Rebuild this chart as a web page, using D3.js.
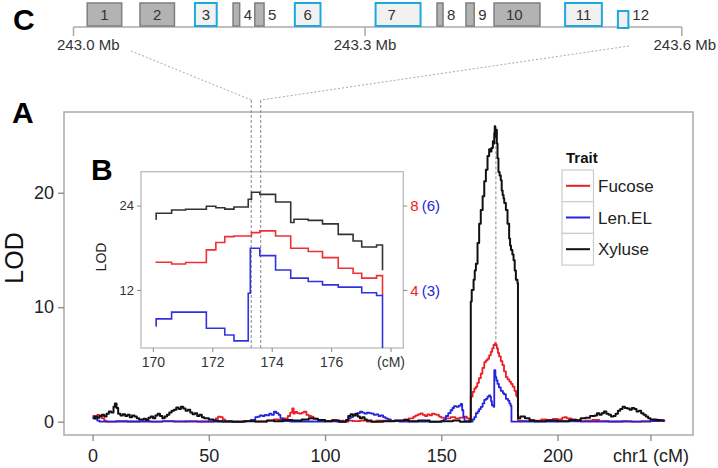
<!DOCTYPE html>
<html>
<head>
<meta charset="utf-8">
<script src="https://cdn.jsdelivr.net/npm/d3@7"></script>
<style>
body { margin: 0; background: #fff; }
</style>
</head>
<body>
<svg width="718" height="468"></svg>
<script>
// ---------- data ----------
// panel A, whole chromosome 1: [cM, LOD]
var fucose = [[0,0.5],[1,0.45],[2,0.6],[3,0.5],[4,0.3],[5,0.1],[6,0],[10,0.05],[15,0],[20,0.05],[25,0],[30,0.05],[35,0],[40,0.05],[45,0.02],[50,0],
  [52,0.1],[53,0.3],[54,0.45],[55,0.4],[56,0.2],[57,0.05],[60,0],[65,0.05],[70,0],[75,0.1],[78,0.2],[80,0.15],[82,0.3],[84,0.5],[85,0.8],[85.9,1.17],
  [86.5,0.7],[87,0.85],[88,0.75],[89,0.7],[90,0.8],[90.9,0.87],[92,0.6],[93,0.5],[94,0.45],[95,0.3],[96,0.2],[97,0.1],[100,0.05],[103,0.15],[105,0.1],
  [108,0],[110,0.1],[112,0.05],[115,0.1],[118,0],[122,0.1],[126,0.05],[130,0.1],[134,0.2],[136,0.3],[138,0.45],[139,0.55],[140,0.65],[141,0.73],
  [142,0.6],[143,0.5],[144,0.65],[145,0.55],[146,0.7],[147,0.65],[148,0.6],[149,0.45],[150,0.35],[152,0.3],[154,0.4],[156,0.3],[158,0.35],[160,0.45],
  [161,0.3],[162,0.1],[162.6,0.05],[162.7,2.2],[163.5,2.6],[164.2,2.9],[164.9,3.06],[165.5,3.4],[166.2,3.8],[167,4.2],[167.7,4.7],[168.5,5.2],
  [169.2,5.35],[169.9,5.5],[170.6,5.8],[171.3,6.1],[171.9,6.4],[172.5,6.7],[173.1,6.84],[173.5,6.7],[173.9,6.4],[174.4,6.0],[174.9,5.7],[175.6,5.3],
  [176.3,4.95],[177,4.4],[177.8,3.9],[178.5,3.7],[179.3,3.5],[180,3.3],[180.7,3.06],[181.5,2.7],[182.2,2.3],[182.5,2.2],[183,0.1],[185,0.05],
  [188,0.15],[190,0.1],[193,0.2],[195,0.15],[198,0.25],[200,0.2],[202,0.35],[203,0.4],[204,0.3],[206,0.2],[208,0.15],[210,0.05],[212,0.1],
  [215,0.15],[218,0.05],[222,0],[228,0.05],[232,0],[236,0.05],[240,0.1],[242,0.2],[243,0.15],[245,0.05],[246,0]];

var lenEL = [[0,0.4],[1,0.25],[2,0.1],[3,0],[10,0.02],[20,0],[30,0.03],[40,0],[50,0.02],[60,0],[66,0.05],[68,0.15],[70,0.4],[71,0.45],[72,0.55],
  [73,0.5],[74,0.6],[75,0.55],[76,0.7],[77,0.6],[78,0.87],[79,0.75],[80,0.6],[80.8,0.3],[82,0.05],[85,0],[90,0.02],[95,0],[100,0.03],[105,0],
  [109,0.1],[110,0.3],[111,0.4],[112,0.55],[113,0.6],[114,0.75],[115,0.87],[116,0.8],[117,0.7],[118,0.8],[119,0.75],[120,0.7],[121,0.6],[122,0.65],
  [123,0.5],[124,0.55],[125,0.4],[126,0.3],[127,0.2],[128.3,0.05],[132,0],[140,0.02],[145,0],[150,0.05],[151,0.2],[152,0.5],[153,0.75],[154,1.0],
  [154.8,1.2],[155.5,1.37],[156.5,1.3],[157.5,1.4],[158.4,1.55],[159,1.0],[159.5,0.4],[160,0.05],[163,0],[163.5,0.2],[164.2,0.4],[164.9,0.74],
  [165.7,0.9],[166.3,1.1],[167,1.3],[167.8,1.6],[168.5,1.9],[169.2,2.0],[169.9,2.2],[170.5,2.3],[171,2.2],[171.4,1.8],[171.8,1.44],[172.5,1.3],
  [172.8,4.5],[173.3,3.9],[173.7,3.6],[174.2,3.3],[174.8,3.0],[175.6,2.7],[176.5,2.5],[177,2.4],[177.8,2.0],[178.7,1.85],[179.3,1.6],[179.8,1.4],
  [180.2,0],[185,0.02],[190,0],[200,0.03],[210,0],[220,0.02],[230,0],[240,0.05],[244,0.12],[246,0.1]];

var xyluse = [[0,0.3],[1,0.45],[2,0.35],[3,0.5],[4,0.6],[5,0.45],[6,0.7],[7,0.9],[8,0.8],[9,1.3],[9.6,1.6],[10.3,1.2],[11,0.7],[12,0.55],[13,0.65],
  [14,0.5],[15,0.6],[16,0.4],[17,0.55],[18,0.45],[19,0.3],[20,0.2],[22,0.25],[23,0.15],[24,0.35],[25,0.45],[26,0.3],[27,0.55],[28,0.7],[29,0.5],
  [30,0.3],[31,0.45],[32,0.6],[33,0.8],[34,0.95],[35,1.05],[36,1.25],[37,1.1],[38,1.3],[39,1.15],[40,0.95],[41,1.05],[42,0.8],[43,0.65],[44,0.75],
  [45,0.5],[46,0.6],[47,0.4],[48,0.3],[50,0.2],[52,0.1],[54,0.05],[56,0.02],[60,0],[65,0.05],[70,0.02],[75,0.1],[78,0.05],[82,0.15],[86,0.1],
  [90,0.2],[93,0.3],[95,0.25],[97,0.15],[100,0.05],[103,0.1],[106,0],[109,0.15],[110,0.5],[111,0.65],[112,0.55],[113,0.7],[114,0.45],[115,0.3],
  [116,0.4],[117,0.2],[118,0.1],[120,0],[125,0.05],[130,0.1],[134,0.15],[136,0.05],[140,0.1],[145,0],[150,0.05],[155,0.1],[158,0],[162.6,0.05],
  [162.7,10.5],[163.1,11.5],[163.9,12.4],[164.4,13.2],[164.9,13.8],[165.6,15.6],[166.3,17.3],[167,18.5],[167.8,19.7],[168.5,21],[169.2,22],
  [169.9,23.2],[170.6,23.8],[171.1,23.6],[171.6,23.9],[172.2,24.5],[172.6,24.3],[172.8,25.2],[173,25.8],[173.2,24.9],[173.5,25.5],[173.9,24.3],
  [174.2,23],[174.6,21.8],[175.1,21.5],[175.6,21.1],[176,20.2],[176.4,19.8],[176.8,19.5],[177.1,19.1],[177.8,18.5],[178.5,17.3],[179.2,16],
  [179.6,15.4],[180,15],[180.6,14.6],[181.1,14.1],[181.6,13.2],[182.1,12.4],[182.8,12.1],[183,0.3],[184,0.45],[186,0.3],[188,0.1],[190,0.05],
  [195,0.1],[200,0.05],[205,0.15],[208,0.1],[210,0.3],[212,0.35],[214,0.5],[216,0.55],[217,0.75],[218,0.6],[219,0.75],[220,0.9],[221,0.7],
  [222,0.6],[223,0.45],[224,0.5],[225,0.7],[226,0.95],[227,1.1],[228,1.3],[229,1.2],[230,1.15],[231,1.05],[232,1.2],[233,1.1],[234,0.9],
  [235,0.95],[236,0.75],[237,0.6],[238,0.45],[239,0.3],[240,0.2],[242,0.15],[244,0.1],[246,0.1]];

var xTicks = [0, 50, 100, 150, 200, 240];
var yTicks = [0, 10, 20];
var traits = ["Fucose", "Len.EL", "Xyluse"];
var traitColors = ["#ee1c24", "#2424dc", "#111111"];
var peakCM = 173.5;

// panel B, markers in the peak (cM) and LOD per trait
var insetPos   = [170.09,170.11,170.63,171.10,171.80,172.12,172.42,172.73,173.21,173.28,173.32,173.60,174.13,174.64,174.75,175.23,175.71,176.24,176.74,177.03,177.53,177.73];
var insetXyl   = [22.05,22.90,23.37,23.47,23.90,23.70,23.50,23.80,24.90,24.90,25.90,25.60,24.50,21.60,22.05,21.90,21.40,19.90,18.96,18.10,18.40,14.80];
var insetFuc   = [5.31,5.31,5.23,5.30,5.90,6.25,6.53,6.56,6.56,6.56,6.72,6.80,6.56,5.98,5.98,5.82,5.53,5.03,4.79,4.56,4.68,3.76];
var insetLen   = [1.72,1.97,2.21,2.21,1.64,1.64,1.40,1.19,2.88,4.48,4.48,4.22,3.71,3.42,3.42,3.30,3.18,3.10,3.10,2.90,2.80,0.50];
var insetXTicks = [170, 172, 174, 176, 178];
var insetYTicks = [12, 24];
var fucScale = 3, lenScale = 4;   // right axis: 8 (6) sits at 24
var insetMarks = [173.31, 173.63];

// panel C, genes (Mb)
var geneIds   = [1,2,3,4,5,6,7,8,9,10,11,12];
var geneStart = [243.0141,243.0684,243.1250,243.1642,243.1866,243.2278,243.3100,243.3682,243.3956,243.4222,243.4895,243.5395];
var geneEnd   = [243.0496,243.1039,243.1474,243.1710,243.1961,243.2542,243.3526,243.3739,243.4034,243.4657,243.5243,243.5494];
var geneCand  = [0,0,1,0,0,1,1,0,0,0,1,1];
var mbTicks = [243.0, 243.3, 243.6];

// ---------- drawing ----------
var svg = d3.select("svg");
var font = '"Liberation Sans", Arial, Helvetica, sans-serif';

// panel A
var x = d3.scaleLinear().domain([-12.3, 258.3]).range([64, 693]);
var y = d3.scaleLinear().domain([-1.16, 27.05]).range([435, 112]);

svg.append("rect")
    .attr("x", x.range()[0]).attr("y", y.range()[1])
    .attr("width", x.range()[1] - x.range()[0])
    .attr("height", y.range()[0] - y.range()[1])
    .attr("fill", "#fff").attr("stroke", "#aaa").attr("stroke-width", 1.5);

var xAxis = svg.append("g")
    .attr("transform", "translate(0," + y.range()[0] + ")")
    .call(d3.axisBottom(x).tickValues(xTicks).tickSize(6).tickPadding(8)
      .tickFormat(function(d) { return d === 240 ? "chr1 (cM)" : d; }));
xAxis.select(".domain").remove();
xAxis.selectAll("line").attr("stroke", "#888").attr("stroke-width", 1.3);
xAxis.selectAll("text").attr("font-family", font).attr("font-size", 18).attr("fill", "#222");

var yAxis = svg.append("g")
    .attr("transform", "translate(" + x.range()[0] + ",0)")
    .call(d3.axisLeft(y).tickValues(yTicks).tickSize(6).tickPadding(4));
yAxis.select(".domain").remove();
yAxis.selectAll("line").attr("stroke", "#888").attr("stroke-width", 1.3);
yAxis.selectAll("text").attr("font-family", font).attr("font-size", 18).attr("fill", "#222");

svg.append("text")
    .attr("transform", "translate(23,258) rotate(-90)")
    .attr("text-anchor", "middle")
    .attr("font-family", font).attr("font-size", 25).attr("fill", "#111")
    .text("LOD");

// peak marker
svg.append("line")
    .attr("x1", x(peakCM)).attr("x2", x(peakCM))
    .attr("y1", y(25.8)).attr("y2", y(6.84))
    .attr("stroke", "#888").attr("stroke-width", 1).attr("stroke-dasharray", "3,2");

var line = d3.line()
    .x(function(d) { return x(d[0]); })
    .y(function(d) { return y(d[1]); })
    .curve(d3.curveStepAfter);

[fucose, lenEL, xyluse].forEach(function(s, i) {
  svg.append("path")
      .datum(s)
      .attr("d", line)
      .attr("fill", "none")
      .attr("stroke", traitColors[i])
      .attr("stroke-width", i === 2 ? 2 : 1.8)
      .attr("stroke-linejoin", "round");
});

// legend
var lg = svg.append("g").attr("font-family", font);
lg.append("text").attr("x", 566).attr("y", 163)
    .attr("font-size", 15).attr("font-weight", "bold").attr("fill", "#111").text("Trait");
traits.forEach(function(t, i) {
  var top = 170 + i * 31.7;
  lg.append("rect").attr("x", 562).attr("y", top).attr("width", 31.5).attr("height", 31.7)
      .attr("fill", "#fff").attr("stroke", "#ccc").attr("stroke-width", 1.2);
  lg.append("line").attr("x1", 566).attr("x2", 590).attr("y1", top + 15.8).attr("y2", top + 15.8)
      .attr("stroke", traitColors[i]).attr("stroke-width", 2);
  lg.append("text").attr("x", 598).attr("y", top + 15.8).attr("dy", "0.36em")
      .attr("font-size", 17).attr("fill", "#222").text(t);
});

// panel B (inset)
var ix = d3.scaleLinear().domain([169.6, 178.43]).range([141, 403.3]);
var iy = d3.scaleLinear().domain([3.74, 28.82]).range([348, 171.7]);

svg.append("rect")
    .attr("x", ix.range()[0]).attr("y", iy.range()[1])
    .attr("width", ix.range()[1] - ix.range()[0])
    .attr("height", iy.range()[0] - iy.range()[1])
    .attr("fill", "#fff").attr("stroke", "#bbb").attr("stroke-width", 1.3);

svg.append("clipPath").attr("id", "inset-clip")
  .append("rect")
    .attr("x", ix.range()[0]).attr("y", iy.range()[1])
    .attr("width", ix.range()[1] - ix.range()[0])
    .attr("height", iy.range()[0] - iy.range()[1]);

// connector lines from C to B
var connectEnds = [[131, 51], [629, 46]];
insetMarks.forEach(function(m, i) {
  svg.append("line")
      .attr("x1", connectEnds[i][0]).attr("y1", connectEnds[i][1])
      .attr("x2", ix(m)).attr("y2", 100)
      .attr("stroke", "#aaa").attr("stroke-width", 1).attr("stroke-dasharray", "2,2");
  svg.append("line")
      .attr("x1", ix(m)).attr("x2", ix(m))
      .attr("y1", 100).attr("y2", iy.range()[0])
      .attr("stroke", "#888").attr("stroke-width", 1).attr("stroke-dasharray", "3,2");
});

var iline = function(vals, k) {
  return d3.line()
      .x(function(d, i) { return ix(insetPos[i]); })
      .y(function(d) { return iy(d * k); })
      .curve(d3.curveStepAfter)(vals);
};
var inset = svg.append("g").attr("clip-path", "url(#inset-clip)");
[[insetFuc, fucScale, "#ee3036"], [insetLen, lenScale, "#3333dd"], [insetXyl, 1, "#333"]].forEach(function(s) {
  inset.append("path")
      .attr("d", iline(s[0], s[1]))
      .attr("fill", "none").attr("stroke", s[2]).attr("stroke-width", 1.6);
});

var ixAxis = svg.append("g")
    .attr("transform", "translate(0," + iy.range()[0] + ")")
    .call(d3.axisBottom(ix).tickValues(insetXTicks).tickSize(4).tickPadding(5)
      .tickFormat(function(d) { return d === 178 ? "(cM)" : d; }));
ixAxis.select(".domain").remove();
ixAxis.selectAll("line").attr("stroke", "#888");
ixAxis.selectAll("text").attr("font-family", font).attr("font-size", 14).attr("fill", "#333");

var iyAxis = svg.append("g")
    .attr("transform", "translate(" + ix.range()[0] + ",0)")
    .call(d3.axisLeft(iy).tickValues(insetYTicks).tickSize(4).tickPadding(3));
iyAxis.select(".domain").remove();
iyAxis.selectAll("line").attr("stroke", "#888");
iyAxis.selectAll("text").attr("font-family", font).attr("font-size", 13).attr("fill", "#333");

var iyRight = svg.append("g")
    .attr("transform", "translate(" + ix.range()[1] + ",0)")
    .call(d3.axisRight(iy).tickValues(insetYTicks).tickSize(4).tickFormat(""));
iyRight.select(".domain").remove();
iyRight.selectAll("line").attr("stroke", "#888");
iyRight.selectAll(".tick").append("text")
    .attr("x", 7).attr("dy", "0.34em")
    .attr("font-family", font).attr("font-size", 15)
    .each(function(d) {
      var t = d3.select(this);
      t.append("tspan").attr("fill", "#ee1c24").text(d / fucScale);
      t.append("tspan").attr("fill", "#2424dc").attr("dx", 3).text("(" + (d / lenScale) + ")");
    });

svg.append("text")
    .attr("transform", "translate(106,257) rotate(-90)")
    .attr("text-anchor", "middle")
    .attr("font-family", font).attr("font-size", 14).attr("fill", "#222")
    .text("LOD");

// panel C (genes)
var gx = d3.scaleLinear().domain(mbTicks).range([73.5, 365, 681.8]);
var axisY = 27;
svg.append("line")
    .attr("x1", gx(mbTicks[0])).attr("x2", gx(mbTicks[2]))
    .attr("y1", axisY).attr("y2", axisY)
    .attr("stroke", "#aaa").attr("stroke-width", 1.5);
mbTicks.forEach(function(m, i) {
  svg.append("line")
      .attr("x1", gx(m)).attr("x2", gx(m)).attr("y1", axisY).attr("y2", 36)
      .attr("stroke", "#aaa").attr("stroke-width", 1.5);
  svg.append("text")
      .attr("x", i === 0 ? 57 : i === 2 ? 716 : gx(m))
      .attr("y", 50)
      .attr("text-anchor", i === 0 ? "start" : i === 2 ? "end" : "middle")
      .attr("font-family", font).attr("font-size", 15).attr("fill", "#333")
      .text(m.toFixed(1) + " Mb");
});

geneIds.forEach(function(id, i) {
  var x0 = gx(geneStart[i]), x1 = gx(geneEnd[i]);
  var top = id === 12 ? 11 : 3, bottom = id === 12 ? 28 : 26;
  svg.append("rect")
      .attr("x", x0).attr("y", top).attr("width", x1 - x0).attr("height", bottom - top)
      .attr("fill", geneCand[i] ? "#f1f1f1" : "#b3b3b3")
      .attr("stroke", geneCand[i] ? "#1ea8e0" : "#7f7f7f")
      .attr("stroke-width", geneCand[i] ? 2 : 1.5);
  var wide = x1 - x0 > 15;
  svg.append("text")
      .attr("x", wide ? (id === 7 || id === 10 ? x0 + 12 : (x0 + x1) / 2) : x1 + 4)
      .attr("y", 20)
      .attr("text-anchor", wide && !(id === 7 || id === 10) ? "middle" : "start")
      .attr("font-family", font).attr("font-size", 15).attr("fill", "#333")
      .text(id);
});

// panel letters
[["A", 12, 123], ["B", 91, 180], ["C", 13, 30]].forEach(function(p) {
  svg.append("text")
      .attr("x", p[1]).attr("y", p[2])
      .attr("font-family", font).attr("font-size", 30).attr("font-weight", "bold").attr("fill", "#000")
      .text(p[0]);
});
</script>
</body>
</html>
